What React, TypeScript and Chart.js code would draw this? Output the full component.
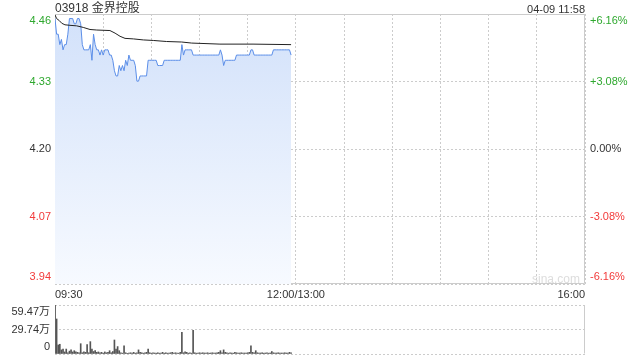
import React, { useEffect, useRef } from "react";
import { Chart, registerables } from "chart.js";

Chart.register(...registerables);

// ---------- data ----------
const stockTitle = "03918 金界控股";
const stampText = "04-09 11:58";
const watermark = "sina.com";
const prevClose = 4.2;
const priceRange = 0.2587; // ±6.16%
const sessionMinutes = 330;
const timeTickLabels: Record<number, string> = { 0: "09:30", 150: "12:00/13:00", 330: "16:00" };

// one value per minute from 09:30
const priceValues = [
  4.45, 4.42, 4.42, 4.40, 4.41, 4.39, 4.40, 4.40, 4.42, 4.45,
  4.45, 4.45, 4.44, 4.44, 4.45, 4.45, 4.44, 4.40, 4.39, 4.39,
  4.39, 4.39, 4.40, 4.37, 4.42, 4.40, 4.39, 4.39, 4.38, 4.39,
  4.38, 4.39, 4.39, 4.39, 4.38, 4.38, 4.37, 4.35, 4.34, 4.34,
  4.36, 4.35, 4.36, 4.35, 4.37, 4.36, 4.38, 4.37, 4.37, 4.37,
  4.36, 4.33, 4.33, 4.34, 4.34, 4.34, 4.34, 4.34, 4.37, 4.37,
  4.37, 4.37, 4.37, 4.37, 4.36, 4.36, 4.36, 4.36, 4.37, 4.37,
  4.37, 4.37, 4.37, 4.37, 4.37, 4.37, 4.37, 4.37, 4.37, 4.40,
  4.38, 4.39, 4.39, 4.39, 4.39, 4.39, 4.38, 4.38, 4.38, 4.38,
  4.38, 4.38, 4.38, 4.38, 4.38, 4.38, 4.38, 4.38, 4.38, 4.38,
  4.38, 4.38, 4.38, 4.39, 4.38, 4.36, 4.37, 4.37, 4.37, 4.37,
  4.37, 4.37, 4.37, 4.38, 4.38, 4.38, 4.38, 4.38, 4.38, 4.38,
  4.38, 4.38, 4.39, 4.39, 4.38, 4.38, 4.38, 4.38, 4.38, 4.38,
  4.38, 4.38, 4.38, 4.38, 4.38, 4.38, 4.39, 4.39, 4.39, 4.39,
  4.39, 4.39, 4.39, 4.39, 4.39, 4.39, 4.39, 4.38,
];

// average price line (minute, value)
const avgMinutes = [0, 1, 2.7, 4.2, 6.2, 9.3, 13.5, 17.6, 21.8, 26, 34.2, 37.4, 40.5, 43.6, 48.8, 55, 61.2, 69.5, 78.9, 85.1, 102.7, 123.3, 147];
const avgValues = [4.457, 4.45, 4.446, 4.441, 4.438, 4.437, 4.436, 4.433, 4.429, 4.428, 4.427, 4.422, 4.416, 4.412, 4.411, 4.409, 4.408, 4.406, 4.405, 4.403, 4.401, 4.401, 4.4];

// volume per minute (shares)
const volumeValues = [
  594700, 425000, 110000, 118000, 50000, 60000, 25000, 60000, 15000, 35000,
  50000, 25000, 40000, 25000, 20000, 15000, 125000, 15000, 25000, 20000,
  115000, 15000, 150000, 60000, 30000, 40000, 20000, 25000, 15000, 20000,
  10000, 25000, 15000, 20000, 40000, 15000, 30000, 170000, 60000, 90000,
  40000, 15000, 10000, 100000, 15000, 8000, 10000, 15000, 10000, 20000,
  10000, 15000, 50000, 20000, 15000, 10000, 15000, 20000, 60000, 15000,
  10000, 15000, 12000, 10000, 15000, 10000, 12000, 20000, 10000, 15000,
  10000, 12000, 15000, 20000, 10000, 15000, 12000, 10000, 20000, 263000,
  15000, 25000, 20000, 10000, 15000, 10000, 288000, 15000, 10000, 12000,
  15000, 10000, 15000, 12000, 10000, 15000, 10000, 12000, 15000, 10000,
  12000, 15000, 20000, 40000, 15000, 50000, 20000, 15000, 10000, 15000,
  12000, 10000, 20000, 15000, 10000, 12000, 15000, 10000, 12000, 10000,
  15000, 20000, 100000, 20000, 15000, 40000, 15000, 10000, 12000, 15000,
  10000, 12000, 15000, 10000, 12000, 30000, 15000, 10000, 12000, 15000,
  10000, 12000, 10000, 15000, 12000, 10000, 20000, 15000,
];
const volumeMax = 594700;

// ---------- style ----------
const FONT = "'Liberation Sans', Arial, 'Noto Sans CJK SC', sans-serif";
const GREEN = "#2ea82e";
const RED = "#f23a3a";
const NEUTRAL = "#333333";
const GRID = "#cccccc";
const FRAME = "#cccccc";

const colorFor = (v: number) => (v > prevClose + 1e-6 ? GREEN : v < prevClose - 1e-6 ? RED : NEUTRAL);

// shift first/last labels inside the frame using a blank line
const edgeLabel = (s: string, index: number, count: number): string | string[] => {
  if (index === 0) return [s, ""];
  if (index === count - 1) return ["", s];
  return s;
};

const noPad = (s: any) => {
  s.paddingTop = 0;
  s.paddingBottom = 0;
  s.paddingLeft = 0;
  s.paddingRight = 0;
};

const framePlugin = (sides: { top: boolean; bottom: boolean; left: boolean; right: boolean }) => ({
  id: "frame",
  beforeDatasetsDraw(chart: any) {
    const { ctx, chartArea } = chart;
    const l = Math.round(chartArea.left) + 0.5;
    const r = Math.round(chartArea.right) - 0.5;
    const t = Math.round(chartArea.top) + 0.5;
    const b = Math.round(chartArea.bottom) - 0.5;
    ctx.save();
    ctx.strokeStyle = FRAME;
    ctx.lineWidth = 1;
    ctx.beginPath();
    if (sides.top) { ctx.moveTo(l, t); ctx.lineTo(r, t); }
    if (sides.bottom) { ctx.moveTo(l, b); ctx.lineTo(r, b); }
    if (sides.left) { ctx.moveTo(l, t); ctx.lineTo(l, b); }
    if (sides.right) { ctx.moveTo(r, t); ctx.lineTo(r, b); }
    ctx.stroke();
    ctx.restore();
  },
});

export default function App() {
  const mainRef = useRef<HTMLCanvasElement>(null);
  const volRef = useRef<HTMLCanvasElement>(null);

  useEffect(() => {
    document.body.style.margin = "0";
    const yMin = prevClose - priceRange;
    const yMax = prevClose + priceRange;
    const priceTicks = [yMin, prevClose - priceRange / 2, prevClose, prevClose + priceRange / 2, yMax];
    const timeTicks: number[] = [];
    for (let m = 0; m <= sessionMinutes; m += 30) timeTicks.push(m);

    const main = new Chart(mainRef.current!, {
      type: "line",
      data: {
        datasets: [
          {
            label: "avg",
            data: avgMinutes.map((m, i) => ({ x: m, y: avgValues[i] })),
            borderColor: "#222222",
            borderWidth: 1,
            pointRadius: 0,
            fill: false,
            tension: 0,
            order: 1,
          },
          {
            label: "price",
            data: priceValues.map((v, i) => ({ x: i, y: v })),
            borderColor: "#5b8ee8",
            borderWidth: 1,
            pointRadius: 0,
            tension: 0,
            fill: "start",
            order: 2,
            backgroundColor: (ctx: any) => {
              const { chart } = ctx;
              const area = chart.chartArea;
              if (!area) return "#dce8fb";
              const g = chart.ctx.createLinearGradient(0, area.top, 0, area.bottom);
              g.addColorStop(0, "#d2e1fa");
              g.addColorStop(1, "#f7faff");
              return g;
            },
          },
        ],
      },
      options: {
        animation: false,
        responsive: false,
        maintainAspectRatio: false,
        layout: { padding: { top: 14, left: 0, right: 0, bottom: 0 } },
        plugins: { legend: { display: false }, tooltip: { enabled: false } },
        scales: {
          x: {
            type: "linear",
            min: 0,
            max: sessionMinutes,
            afterBuildTicks: (s: any) => { s.ticks = timeTicks.map((v) => ({ value: v })); },
            afterFit: (s: any) => { s.height = 16; noPad(s); },
            ticks: {
              autoSkip: false,
              maxRotation: 0,
              align: "inner",
              padding: 4,
              color: NEUTRAL,
              font: { family: FONT, size: 11 },
              callback: (v: any) => timeTickLabels[v as number] ?? "",
            },
            grid: { color: GRID, drawTicks: false },
            border: { display: false, dash: [2, 2] },
          },
          y: {
            position: "left",
            min: yMin,
            max: yMax,
            afterBuildTicks: (s: any) => { s.ticks = priceTicks.map((v) => ({ value: v })); },
            afterFit: (s: any) => { s.width = 55; noPad(s); },
            ticks: {
              autoSkip: false,
              padding: 4,
              font: { family: FONT, size: 11 },
              color: (c: any) => colorFor(c.tick.value),
              callback: (v: any, i: number, t: any[]) => edgeLabel((v as number).toFixed(2), i, t.length),
            },
            grid: { color: GRID, drawTicks: false },
            border: { display: false, dash: [2, 2] },
          },
          yR: {
            position: "right",
            min: yMin,
            max: yMax,
            afterBuildTicks: (s: any) => { s.ticks = priceTicks.map((v) => ({ value: v })); },
            afterFit: (s: any) => { s.width = 55; noPad(s); },
            ticks: {
              autoSkip: false,
              padding: 5,
              font: { family: FONT, size: 11 },
              color: (c: any) => colorFor(c.tick.value),
              callback: (v: any, i: number, t: any[]) => {
                const p = ((v as number) - prevClose) / prevClose * 100;
                const s = (p > 0.0001 ? "+" : "") + p.toFixed(2) + "%";
                return edgeLabel(s, i, t.length);
              },
            },
            grid: { display: false, drawTicks: false },
            border: { display: false },
          },
        },
      },
      plugins: [framePlugin({ top: true, bottom: true, left: true, right: true })],
    } as any);

    const volTicks = [0, volumeMax / 2, volumeMax];
    const vol = new Chart(volRef.current!, {
      type: "bar",
      data: {
        datasets: [
          {
            label: "volume",
            data: volumeValues.map((v, i) => ({ x: i, y: v })),
            backgroundColor: "#555555",
            barThickness: 1,
            borderWidth: 0,
          },
        ],
      },
      options: {
        animation: false,
        responsive: false,
        maintainAspectRatio: false,
        layout: { padding: { top: 5, bottom: 6, left: 0, right: 55 } },
        plugins: { legend: { display: false }, tooltip: { enabled: false } },
        scales: {
          x: {
            type: "linear",
            min: 0,
            max: sessionMinutes,
            offset: false,
            display: false,
            grid: { offset: false },
            afterFit: noPad,
          },
          y: {
            position: "left",
            min: 0,
            max: volumeMax,
            afterBuildTicks: (s: any) => { s.ticks = volTicks.map((v) => ({ value: v })); },
            afterFit: (s: any) => { s.width = 55; noPad(s); },
            ticks: {
              autoSkip: false,
              padding: 5,
              color: NEUTRAL,
              font: { family: FONT, size: 11 },
              callback: (v: any, i: number, t: any[]) => {
                const n = v as number;
                const s = n === 0 ? "0" : (Math.round(n / 100) / 100).toFixed(2) + "万";
                return edgeLabel(s, i, t.length);
              },
            },
            grid: { color: GRID, drawTicks: false },
            border: { display: false, dash: [2, 2] },
          },
        },
      },
      plugins: [framePlugin({ top: false, bottom: false, left: true, right: true })],
    } as any);

    return () => {
      main.destroy();
      vol.destroy();
    };
  }, []);

  const textBase: React.CSSProperties = {
    position: "absolute",
    fontFamily: FONT,
    whiteSpace: "nowrap",
    lineHeight: "14px",
  };

  return (
    <div style={{ position: "relative", width: 640, height: 360, background: "#fff", overflow: "hidden" }}>
      <canvas ref={mainRef} width={640} height={300} style={{ position: "absolute", left: 0, top: 0, width: 640, height: 300 }} />
      <canvas ref={volRef} width={640} height={60} style={{ position: "absolute", left: 0, top: 300, width: 640, height: 60 }} />
      <div style={{ ...textBase, left: 55, top: 1, fontSize: 12, color: "#333" }}>{stockTitle}</div>
      <div style={{ ...textBase, right: 55, top: 2, fontSize: 11, color: "#333" }}>{stampText}</div>
      <div style={{ ...textBase, left: 532, top: 272, fontSize: 12, color: "#dddddd" }}>{watermark}</div>
    </div>
  );
}
